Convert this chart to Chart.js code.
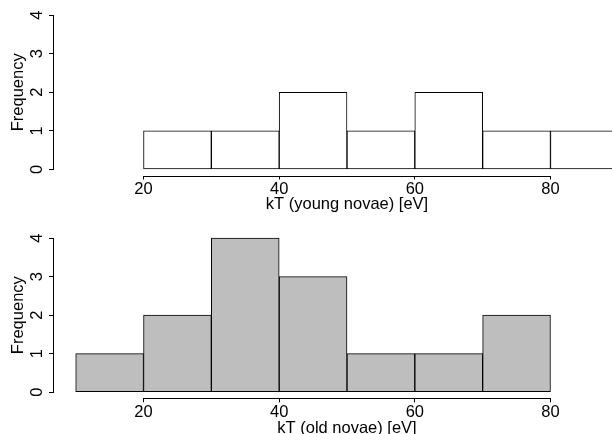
<!DOCTYPE html>
<html>
<head>
<meta charset="utf-8">
<script src="https://cdn.jsdelivr.net/npm/chart.js@4.4.1/dist/chart.umd.min.js"></script>
<style>
    html, body { margin: 0; padding: 0; background: #fff; overflow: hidden; }
    #wrap { position: relative; width: 612px; height: 434px; overflow: hidden; }
    #young { position: absolute; left: 0; top: 0; }
    #old { position: absolute; left: 0; top: 217px; }
</style>
</head>
<body>
<div id="wrap">
    <canvas id="young" width="640" height="217"></canvas>
    <canvas id="old" width="640" height="225"></canvas>
</div>
<script>
// bin centres (bins are 10 eV wide) and counts per bin
const youngBins = [25, 35, 45, 55, 65, 75, 85];
const youngCounts = [1, 1, 2, 1, 2, 1, 1];
const oldBins = [15, 25, 35, 45, 55, 65, 75];
const oldCounts = [1, 2, 4, 3, 1, 1, 2];
const xTicks = [20, 40, 60, 80];
const yTicks = [0, 1, 2, 3, 4];
// xlim c(10, 90), ylim c(0, 4) plus the usual 4% margin
const xRange = [6.8, 93.2];
const yRange = [-0.16, 4.16];

const font = { family: "'Liberation Sans', Arial, Helvetica, sans-serif", size: 16.5 };

const align = (p) => Math.round(p - 0.5) + 0.5;

// axis lines only run from the first to the last tick
const axisLines = {
    id: "axisLines",
    afterDraw(chart) {
        const { ctx, chartArea, scales } = chart;
        const bx = Math.round(chartArea.bottom) + 0.5;
        const ly = Math.round(chartArea.left) - 0.5;
        ctx.save();
        ctx.strokeStyle = "#000";
        ctx.lineWidth = 1;
        ctx.lineCap = "square";
        ctx.beginPath();
        ctx.moveTo(align(scales.x.getPixelForValue(xTicks[0])), bx);
        ctx.lineTo(align(scales.x.getPixelForValue(xTicks[xTicks.length - 1])), bx);
        ctx.moveTo(ly, align(scales.y.getPixelForValue(yTicks[0])));
        ctx.lineTo(ly, align(scales.y.getPixelForValue(yTicks[yTicks.length - 1])));
        ctx.stroke();
        ctx.restore();
    },
};

function histogram(id, bins, counts, fill, title, padTop, xHeight, titlePad) {
    return new Chart(document.getElementById(id), {
        type: "bar",
        data: {
            datasets: [
                {
                    data: bins.map((b, i) => ({ x: b, y: counts[i] })),
                    backgroundColor: fill,
                    borderColor: "#000",
                    borderWidth: 1,
                    borderSkipped: false,
                    barPercentage: 1,
                    categoryPercentage: 1,
                },
            ],
        },
        options: {
            responsive: false,
            animation: false,
            layout: { padding: { top: padTop, left: 0, right: 0, bottom: 0 } },
            plugins: { legend: { display: false }, tooltip: { enabled: false } },
            scales: {
                x: {
                    type: "linear",
                    min: xRange[0],
                    max: xRange[1],
                    offset: false,
                    afterBuildTicks: (s) => {
                        s.ticks = xTicks.map((v) => ({ value: v }));
                    },
                    afterFit: (s) => {
                        s.height = xHeight;
                        s.paddingLeft = 0;
                        s.paddingRight = 0;
                    },
                    border: { display: false },
                    grid: { drawOnChartArea: false, offset: false, color: "#000", tickLength: 4 },
                    ticks: { color: "#000", font, padding: 0, maxRotation: 0, autoSkip: false },
                    title: {
                        display: true,
                        text: title,
                        color: "#000",
                        font,
                        padding: { top: 0, bottom: titlePad },
                    },
                },
                y: {
                    min: yRange[0],
                    max: yRange[1],
                    afterBuildTicks: (s) => {
                        s.ticks = yTicks.map((v) => ({ value: v }));
                    },
                    afterFit: (s) => {
                        s.width = 54;
                        s.paddingTop = 0;
                        s.paddingBottom = 0;
                    },
                    border: { display: false },
                    grid: { drawOnChartArea: false, color: "#000", tickLength: 5 },
                    ticks: {
                        color: "#000",
                        font,
                        padding: 6.5,
                        minRotation: 90,
                        maxRotation: 90,
                        crossAlign: "center",
                    },
                    title: {
                        display: true,
                        text: "Frequency",
                        color: "#000",
                        font,
                        padding: { top: 9, bottom: 0 },
                    },
                },
            },
        },
        plugins: [axisLines],
    });
}

histogram("young", youngBins, youngCounts, "#ffffff", "kT (young novae) [eV]", 9, 41.5, 2.5);
histogram("old", oldBins, oldCounts, "#bebebe", "kT (old novae) [eV]", 15, 43.7, 3.5);
</script>
</body>
</html>
